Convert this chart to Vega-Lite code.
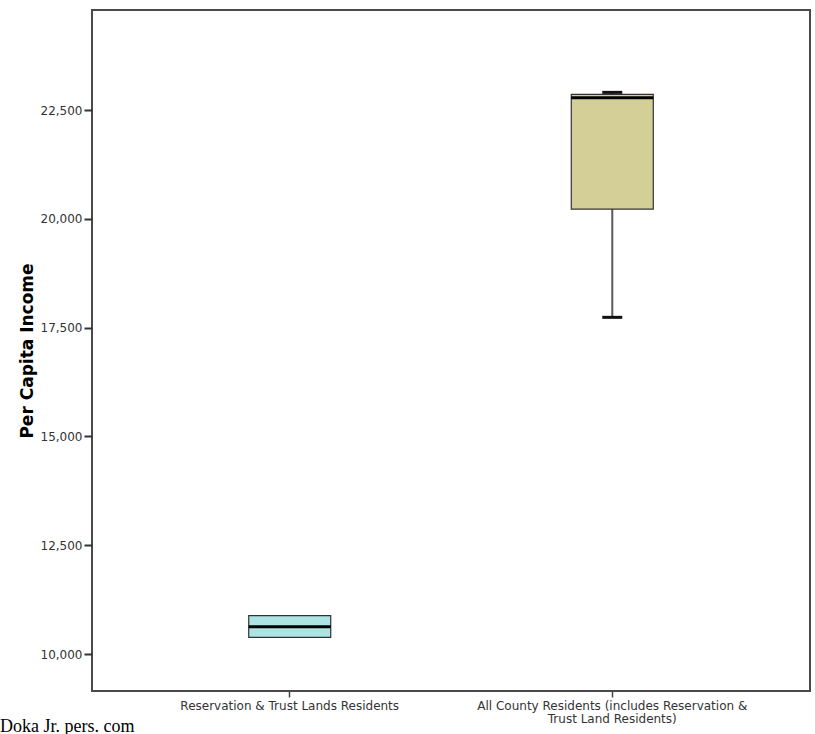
{
  "$schema": "https://vega.github.io/schema/vega-lite/v6.json",
  "width": 718,
  "height": 681,
  "autosize": {"type": "none"},
  "padding": {"left": 92, "top": 10, "right": 5, "bottom": 43},
  "background": "white",
  "config": {
    "view": {"stroke": "#4a4a4a", "strokeWidth": 2},
    "font": "DejaVu Sans"
  },
  "title": {
    "text": "Doka Jr. pers. com",
    "orient": "bottom",
    "anchor": "start",
    "frame": "group",
    "dx": -92,
    "offset": 0,
    "dy": -6,
    "font": "Liberation Serif",
    "fontSize": 18,
    "fontWeight": "normal",
    "color": "#000000"
  },
  "data": {
    "values": [
      {"group": "Reservation & Trust Lands Residents", "min": 10384, "q1": 10384, "median": 10627, "q3": 10880, "max": 10880},
      {"group": "All County Residents (includes Reservation & Trust Land Residents)", "min": 17737, "q1": 20225, "median": 22783, "q3": 22861, "max": 22907}
    ]
  },
  "encoding": {
    "x": {
      "field": "group",
      "type": "nominal",
      "sort": null,
      "scale": {"type": "band", "paddingInner": 0, "paddingOuter": 0.113},
      "axis": {
        "title": null,
        "labelAngle": 0,
        "labelFont": "DejaVu Sans",
        "labelFontSize": 12,
        "labelColor": "#333333",
        "labelLimit": 400,
        "labelPadding": 3,
        "labelLineHeight": 13,
        "labelExpr": "length(datum.label) > 40 ? ['All County Residents (includes Reservation &', 'Trust Land Residents)'] : datum.label",
        "domain": false,
        "ticks": true,
        "tickSize": 6,
        "tickColor": "#444444",
        "tickWidth": 1.5
      }
    }
  },
  "layer": [
    {
      "mark": {"type": "rule", "color": "#5a5a5a", "strokeWidth": 2},
      "encoding": {
        "y": {
          "field": "min",
          "type": "quantitative",
          "scale": {"domain": [9150, 24800], "nice": false, "zero": false},
          "axis": {
            "title": "Per Capita Income",
            "titleFont": "DejaVu Sans",
            "titleFontSize": 17,
            "titleFontWeight": "bold",
            "titleColor": "#000000",
            "titlePadding": 4,
            "values": [10000, 12500, 15000, 17500, 20000, 22500],
            "format": ",d",
            "labelFont": "DejaVu Sans",
            "labelFontSize": 12,
            "labelColor": "#333333",
            "labelPadding": 2,
            "tickSize": 8,
            "tickWidth": 2,
            "tickColor": "#333333",
            "grid": false,
            "domain": false
          }
        },
        "y2": {"field": "max"}
      }
    },
    {
      "mark": {"type": "bar", "size": 82, "stroke": "#333333", "strokeWidth": 1.2},
      "encoding": {
        "y": {"field": "q1", "type": "quantitative"},
        "y2": {"field": "q3"},
        "color": {
          "field": "group",
          "type": "nominal",
          "sort": null,
          "scale": {"range": ["#ade3e3", "#d4cf96"]},
          "legend": null
        }
      }
    },
    {
      "mark": {"type": "tick", "size": 82, "thickness": 3, "color": "#000000", "opacity": 1},
      "encoding": {
        "y": {"field": "median", "type": "quantitative"}
      }
    },
    {
      "transform": [{"filter": "datum.min < datum.q1"}],
      "mark": {"type": "tick", "size": 20, "thickness": 3, "color": "#111111", "opacity": 1},
      "encoding": {
        "y": {"field": "min", "type": "quantitative"}
      }
    },
    {
      "transform": [{"filter": "datum.min < datum.q1"}],
      "mark": {"type": "tick", "size": 20, "thickness": 3, "color": "#111111", "opacity": 1},
      "encoding": {
        "y": {"field": "max", "type": "quantitative"}
      }
    }
  ]
}
